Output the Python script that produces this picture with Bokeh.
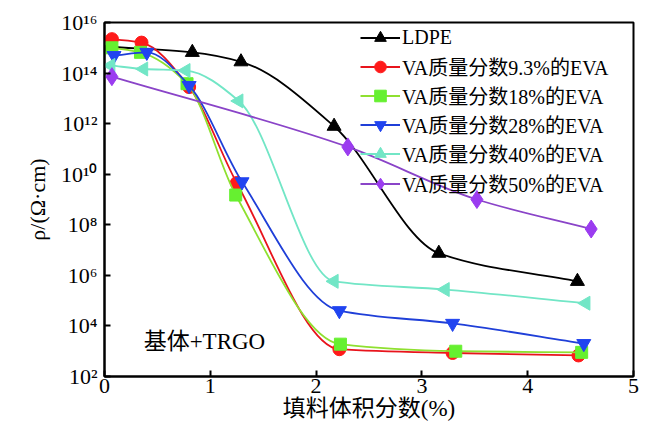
import numpy as np
from bokeh.plotting import figure
from bokeh.models import ColumnDataSource, FixedTicker, Legend, LegendItem, Label
from bokeh.embed import file_html
from bokeh.resources import INLINE

# ---------------- data ----------------
series_names = ["LDPE", "VA质量分数9.3%的EVA", "VA质量分数18%的EVA",
                "VA质量分数28%的EVA", "VA质量分数40%的EVA", "VA质量分数50%的EVA"]

ldpe_x = [0.05, 0.83, 1.29, 2.17, 3.16, 4.47]
ldpe_y = [1.1e15, 6.6e14, 2.8e14, 7.9e11, 7.5e6, 5.8e5]

eva93_x = [0.07, 0.35, 0.80, 1.25, 2.22, 3.29, 4.48]
eva93_y = [2.2e15, 1.6e15, 2.8e13, 4.5e9, 1.2e3, 8.5e2, 6.8e2]

eva18_x = [0.07, 0.34, 0.78, 1.24, 2.23, 3.32, 4.51]
eva18_y = [1.0e15, 6.6e14, 3.8e13, 1.5e9, 1.9e3, 1.0e3, 9.0e2]

eva28_x = [0.09, 0.40, 0.80, 1.30, 2.22, 3.29, 4.53]
eva28_y = [4.9e14, 6.6e14, 3.2e13, 5.0e9, 4.0e4, 1.26e4, 2.0e3]

eva40_x = [0.06, 0.37, 0.77, 1.27, 2.17, 3.22, 4.55]
eva40_y = [2.0e14, 1.45e14, 1.26e14, 7.9e12, 5.8e5, 2.75e5, 7.9e4]

eva50_x = [0.07, 2.30, 3.52, 4.60]
eva50_y = [7.2e13, 1.2e11, 1.0e9, 6.8e7]

x_ticks = [0, 1, 2, 3, 4, 5]
y_tick_exponents = [2, 4, 6, 8, 10, 12, 14, 16]

annotation_text = "基体+TRGO"
annotation_x = 0.37
annotation_y = 2.5e3

x_label = "填料体积分数(%)"
y_label = "ρ/(Ω·cm)"

# ---------------- styles ----------------
SERIF = "Liberation Serif, Noto Sans CJK SC"
styles = [
    dict(line="#000000", fill="#000000", marker="triangle", size=14, angle=0.0),
    dict(line="#e8141c", fill="#ff1a1a", marker="circle", size=13, angle=0.0),
    dict(line="#8fe030", fill="#66f030", marker="square", size=12, angle=0.0),
    dict(line="#1f3fd8", fill="#2044f0", marker="inverted_triangle", size=14, angle=0.0),
    dict(line="#72e6c6", fill="#72e6c6", marker="triangle", size=14, angle=np.pi / 2),
    dict(line="#8a44c8", fill="#9b3cf0", marker="diamond", size=18, angle=0.0),
]
all_x = [ldpe_x, eva93_x, eva18_x, eva28_x, eva40_x, eva50_x]
all_y = [ldpe_y, eva93_y, eva18_y, eva28_y, eva40_y, eva50_y]

# legend layout (screen px, relative to the plot frame)
FRAME_H = 354
LEG_X = 256
LEG_FIRST_CENTER = 15
LEG_PITCH = 29.2
LEG_ROW_H = 29
LEG_FONT = "20px"


def smooth_segments(xs, ys):
    """Monotone cubic Hermite curve in (x, log10 y) expressed as Bezier segments."""
    lx = np.asarray(xs, float)
    ly = np.log10(np.asarray(ys, float))
    h = np.diff(lx)
    d = np.diff(ly) / h
    n = len(lx)
    m = np.zeros(n)
    m[0], m[-1] = d[0], d[-1]
    for i in range(1, n - 1):
        if d[i - 1] * d[i] <= 0:
            m[i] = 0.0
        else:
            w1 = 2 * h[i] + h[i - 1]
            w2 = h[i] + 2 * h[i - 1]
            m[i] = (w1 + w2) / (w1 / d[i - 1] + w2 / d[i])
    return dict(
        x0=lx[:-1], y0=10 ** ly[:-1], x1=lx[1:], y1=10 ** ly[1:],
        cx0=lx[:-1] + h / 3, cy0=10 ** (ly[:-1] + m[:-1] * h / 3),
        cx1=lx[1:] - h / 3, cy1=10 ** (ly[1:] - m[1:] * h / 3),
    )


p = figure(width=644, height=423, output_backend="svg", toolbar_location=None,
           x_range=(0, 5), y_range=(1e2, 1e16), y_axis_type="log",
           min_border_left=104, min_border_right=11, min_border_top=22, min_border_bottom=47)
p.background_fill_color = "white"
p.border_fill_color = "white"
p.outline_line_color = "black"
p.outline_line_width = 2
p.xgrid.visible = False
p.ygrid.visible = False

# axes
SUP = str.maketrans("0123456789", "⁰¹²³⁴⁵⁶⁷⁸⁹")
p.xaxis.ticker = FixedTicker(ticks=x_ticks)
p.yaxis.ticker = FixedTicker(ticks=[10.0 ** e for e in y_tick_exponents])
p.yaxis.major_label_overrides = {10.0 ** e: "10" + str(e).translate(SUP) for e in y_tick_exponents}
for ax in (p.xaxis, p.yaxis):
    ax.axis_line_width = 2
    ax.axis_line_color = "black"
    ax.major_tick_in = 6
    ax.major_tick_out = 0
    ax.major_tick_line_width = 2
    ax.minor_tick_in = 0
    ax.minor_tick_out = 0
    ax.major_label_text_font = SERIF
    ax.major_label_text_font_size = "22px"
    ax.major_label_text_color = "black"
    ax.major_label_text_line_height = 0.9
    ax.axis_label_text_font = SERIF
    ax.axis_label_text_font_style = "normal"
    ax.axis_label_text_color = "black"
    ax.axis_label_text_line_height = 0.9
p.xaxis.major_label_standoff = 2
p.xaxis.axis_label = x_label
p.xaxis.axis_label_text_font_size = "23px"
p.xaxis.axis_label_standoff = 0
p.yaxis.major_label_standoff = 7
p.yaxis.axis_label = y_label
p.yaxis.axis_label_text_font_size = "22px"
p.yaxis.axis_label_standoff = 8

# series
for i, (name, xs, ys, st) in enumerate(zip(series_names, all_x, all_y, styles)):
    seg = ColumnDataSource(smooth_segments(xs, ys))
    p.bezier(x0="x0", y0="y0", x1="x1", y1="y1", cx0="cx0", cy0="cy0", cx1="cx1", cy1="cy1",
             source=seg, line_color=st["line"], line_width=1.8)
    pts = ColumnDataSource(dict(x=xs, y=ys))
    sc = p.scatter(x="x", y="y", source=pts, marker=st["marker"], size=st["size"],
                   angle=st["angle"], fill_color=st["fill"], line_color=st["fill"], line_width=1)
    leg_line = p.line(x="x", y="y", source=pts, line_color=st["line"], line_width=1.8)
    leg_line.visible = False

    # one legend row per series, stacked like the original
    y_loc = FRAME_H - (LEG_FIRST_CENTER + i * LEG_PITCH) - LEG_ROW_H / 2
    legend = Legend(items=[LegendItem(label=name, renderers=[leg_line, sc])],
                    location=(LEG_X, y_loc))
    legend.border_line_alpha = 0
    legend.background_fill_alpha = 0
    legend.padding = 0
    legend.margin = 0
    legend.spacing = 0
    legend.glyph_width = 40
    legend.glyph_height = LEG_ROW_H
    legend.label_height = LEG_ROW_H
    legend.label_standoff = 2
    legend.label_text_font = SERIF
    legend.label_text_font_size = LEG_FONT
    legend.label_text_color = "black"
    p.add_layout(legend)

p.add_layout(Label(x=annotation_x, y=annotation_y, text=annotation_text,
                   text_font=SERIF, text_font_size="23px", text_baseline="middle",
                   text_align="left", text_color="black"))

open("out.html", "w").write(file_html(p, INLINE))
